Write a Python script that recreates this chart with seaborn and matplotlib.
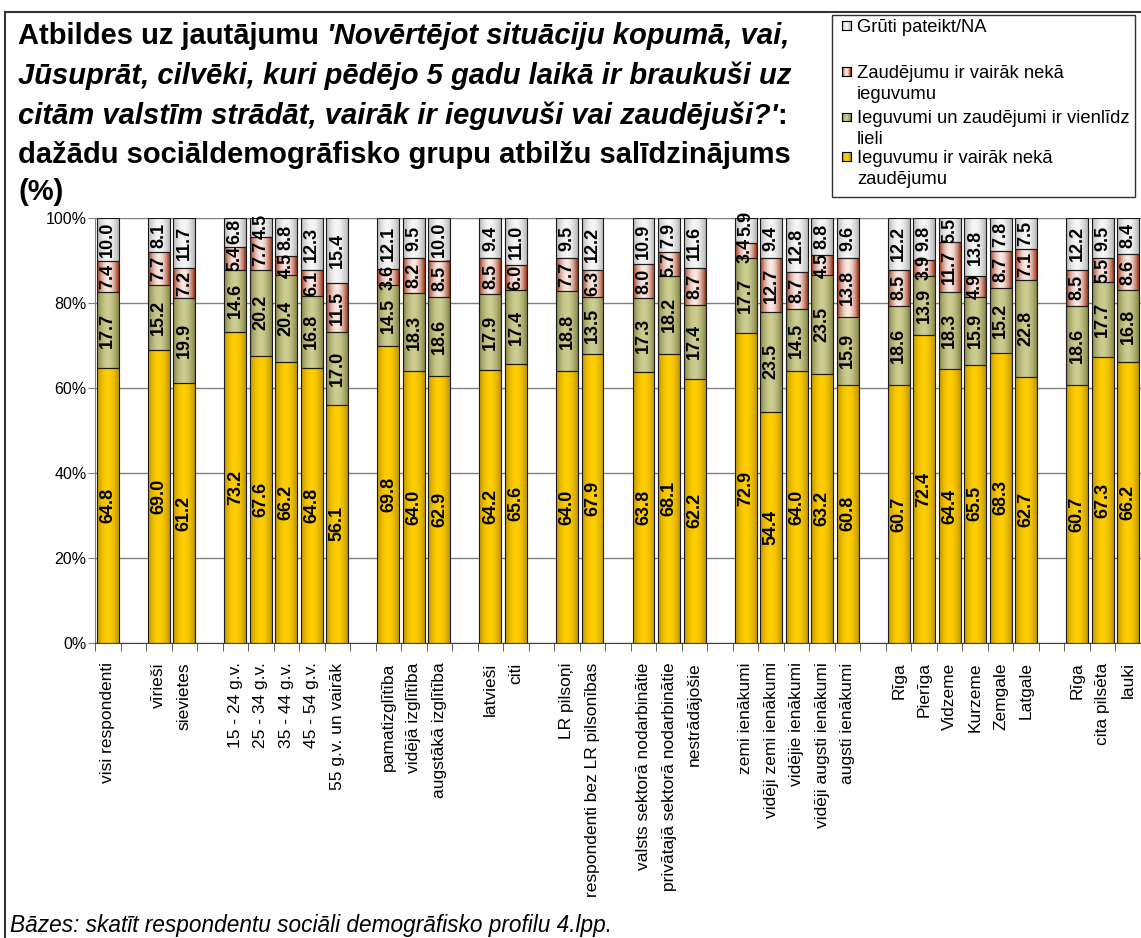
import numpy as np
import pandas as pd
import matplotlib
matplotlib.use("Agg")
import matplotlib.pyplot as plt
from matplotlib.patches import Rectangle
from matplotlib.colors import to_rgb
from matplotlib.ticker import MultipleLocator, FixedLocator
import seaborn as sns

# ---- data ----
labels = ["visi respondenti",
          "vīrieši", "sievietes",
          "15 - 24 g.v.", "25 - 34 g.v.", "35 - 44 g.v.", "45 - 54 g.v.", "55 g.v. un vairāk",
          "pamatizglītība", "vidējā izglītība", "augstākā izglītība",
          "latvieši", "citi",
          "LR pilsoņi", "respondenti bez LR pilsonības",
          "valsts sektorā nodarbinātie", "privātajā sektorā nodarbinātie", "nestrādājošie",
          "zemi ienākumi", "vidēji zemi ienākumi", "vidējie ienākumi", "vidēji augsti ienākumi", "augsti ienākumi",
          "Rīga", "Pierīga", "Vidzeme", "Kurzeme", "Zemgale", "Latgale",
          "Rīga", "cita pilsēta", "lauki"]
group_sizes = [1, 2, 5, 3, 2, 2, 3, 5, 6, 3]

gains = [64.8, 69.0, 61.2, 73.2, 67.6, 66.2, 64.8, 56.1, 69.8, 64.0, 62.9, 64.2, 65.6, 64.0, 67.9,
         63.8, 68.1, 62.2, 72.9, 54.4, 64.0, 63.2, 60.8, 60.7, 72.4, 64.4, 65.5, 68.3, 62.7, 60.7, 67.3, 66.2]
equal = [17.7, 15.2, 19.9, 14.6, 20.2, 20.4, 16.8, 17.0, 14.5, 18.3, 18.6, 17.9, 17.4, 18.8, 13.5,
         17.3, 18.2, 17.4, 17.7, 23.5, 14.5, 23.5, 15.9, 18.6, 13.9, 18.3, 15.9, 15.2, 22.8, 18.6, 17.7, 16.8]
losses = [7.4, 7.7, 7.2, 5.4, 7.7, 4.5, 6.1, 11.5, 3.6, 8.2, 8.5, 8.5, 6.0, 7.7, 6.3,
          8.0, 5.7, 8.7, 3.4, 12.7, 8.7, 4.5, 13.8, 8.5, 3.9, 11.7, 4.9, 8.7, 7.1, 8.5, 5.5, 8.6]
hard_to_say = [10.0, 8.1, 11.7, 6.8, 4.5, 8.8, 12.3, 15.4, 12.1, 9.5, 10.0, 9.4, 11.0, 9.5, 12.2,
               10.9, 7.9, 11.6, 5.9, 9.4, 12.8, 8.8, 9.6, 12.2, 9.8, 5.5, 13.8, 7.8, 7.5, 12.2, 9.5, 8.4]

answers = ["Grūti pateikt/NA",
           "Zaudējumu ir vairāk nekā ieguvumu",
           "Ieguvumi un zaudējumi ir vienlīdz lieli",
           "Ieguvumu ir vairāk nekā zaudējumu"]
legend_texts = ["Grūti pateikt/NA",
                "Zaudējumu ir vairāk nekā\nieguvumu",
                "Ieguvumi un zaudējumi ir vienlīdz\nlieli",
                "Ieguvumu ir vairāk nekā\nzaudējumu"]
# (edge colour, centre colour) of the Excel-like gradient
grad = {answers[0]: ("#B4B4B4", "#F6F6F6"),
        answers[1]: ("#983012", "#FBE9E4"),
        answers[2]: ("#848446", "#CDCD92"),
        answers[3]: ("#BF9500", "#FFCE00")}

title = [[("Atbildes uz jautājumu", "normal"), ("'Novērtējot situāciju kopumā, vai,", "italic")],
         [("Jūsuprāt, cilvēki, kuri pēdējo 5 gadu laikā ir braukuši uz", "italic")],
         [("citām valstīm strādāt, vairāk ir ieguvuši vai zaudējuši?'", "italic"), (":", "normal")],
         [("dažādu sociāldemogrāfisko grupu atbilžu salīdzinājums", "normal")],
         [("(%)", "normal")]]
footnote = "Bāzes: skatīt respondentu sociāli demogrāfisko profilu 4.lpp."

# slot positions with one empty slot between groups
slots = []
pos = 0
for size in group_sizes:
    slots += list(range(pos, pos + size))
    pos += size + 1
n_slots = pos - 1

df = pd.DataFrame({"slot": slots,
                   answers[3]: gains, answers[2]: equal,
                   answers[1]: losses, answers[0]: hard_to_say})
df = df.melt(id_vars="slot", var_name="answer", value_name="pct")

W, H = 1141, 938
fx = lambda x: x / W
fy = lambda y: 1 - y / H

plt.rcParams["font.family"] = "Liberation Sans"
fig = plt.figure(figsize=(W / 100, H / 100), dpi=100)
ax = fig.add_axes([fx(95), fy(643), 1 - fx(95), (643 - 218) / H])

palette = {a: grad[a][1] for a in answers}
sns.histplot(data=df, x="slot", weights="pct", hue="answer", hue_order=answers,
             multiple="stack", discrete=True, shrink=0.86, alpha=1, palette=palette,
             edgecolor="#1a1a1a", linewidth=0.8, legend=False, ax=ax)


def gradient(edge, centre, n=64):
    u = np.linspace(0, 1, n)
    t = np.abs(2 * u - 1) ** 1.8
    e, c = np.array(to_rgb(edge)), np.array(to_rgb(centre))
    return (c + (e - c) * t[:, None])[None, :, :]


bar_texts = {}
for cont in ax.containers:
    fc = cont.patches[0].get_facecolor()[:3]
    ans = [a for a in answers if np.allclose(to_rgb(palette[a]), fc, atol=0.01)][0]
    img = gradient(*grad[ans])
    for p in cont.patches:
        if p.get_height() <= 0:
            p.set_visible(False)
            continue
        x0, y0 = p.get_x(), p.get_y()
        ax.imshow(img, extent=(x0, x0 + p.get_width(), y0, y0 + p.get_height()),
                  aspect="auto", interpolation="bilinear", zorder=1.5)
        p.set_facecolor("none")
        p.set_zorder(2)
    bar_texts[ans] = ax.bar_label(cont, labels=[f"{v:.1f}" if v > 0 else "" for v in cont.datavalues],
                                  label_type="center", rotation=90, fontsize=13,
                                  fontweight="bold", zorder=3)

ax.set_xlim(-0.5, n_slots - 0.5)
ax.set_ylim(0, 100)
ax.set_xlabel("")
ax.set_ylabel("")
ax.yaxis.set_major_locator(MultipleLocator(20))
ax.yaxis.set_major_formatter(lambda v, p: f"{v:.0f}%")
ax.grid(axis="y", color="#808080", linewidth=1)
ax.grid(axis="x", visible=False)
ax.set_axisbelow(True)
for s in ["top", "right"]:
    ax.spines[s].set_visible(False)
ax.spines["left"].set_color("#808080")
ax.spines["bottom"].set_color("#404040")
ax.set_xticks(slots, labels, rotation=90, fontsize=12.5)
ax.xaxis.set_minor_locator(FixedLocator(np.arange(-0.5, n_slots, 1.0)))
ax.tick_params(axis="x", which="major", length=0, pad=14)
ax.tick_params(axis="x", which="minor", length=6, color="#404040")
ax.tick_params(axis="y", length=5, color="#808080", labelsize=11.5, pad=1)

# push the top label up a little where it would run into the one below
renderer = fig.canvas.get_renderer()
for top, below in zip(bar_texts[answers[0]], bar_texts[answers[1]]):
    if not top.get_text() or not below.get_text():
        continue
    overlap = below.get_window_extent(renderer).y1 - top.get_window_extent(renderer).y0
    if overlap > -2:
        top.xyann = (0, (overlap + 2) * 72 / 100)

# frame around the whole chart
fig.patches.append(Rectangle((fx(5), -0.1), 2, fy(12) + 0.1, transform=fig.transFigure,
                             fill=False, edgecolor="#333333", linewidth=1.5))

# title, mixed bold / bold italic
for line, base in zip(title, [44, 84, 124, 163, 200]):
    x = 18
    for k, (txt, style) in enumerate(line):
        if k > 0 and txt != ":":
            x += 8
        t = fig.text(fx(x), fy(base), txt, fontsize=21, fontweight="bold", style=style,
                     va="baseline", ha="left")
        x = t.get_window_extent(renderer).x1

# legend drawn as a box with gradient squares
fig.patches.append(Rectangle((fx(832), fy(197)), (1135 - 832) / W, (197 - 15) / H,
                             transform=fig.transFigure, facecolor="white",
                             edgecolor="#333333", linewidth=1, zorder=-1))
for txt, ans, cy in zip(legend_texts, answers, [26, 72, 117, 157]):
    m = fig.add_axes([fx(842), fy(cy + 4.5), 9 / W, 9 / H], zorder=2)
    m.imshow(gradient(*grad[ans], n=9), aspect="auto", interpolation="bilinear")
    m.set_xticks([])
    m.set_yticks([])
    for sp in m.spines.values():
        sp.set_linewidth(0.8)
    fig.text(fx(857), fy(cy - 7), txt, fontsize=13.2, va="top", ha="left", linespacing=1.3)

fig.text(fx(10), fy(932), footnote, fontsize=16.3, style="italic", va="baseline", ha="left")

fig.savefig("out.png", dpi=100)
